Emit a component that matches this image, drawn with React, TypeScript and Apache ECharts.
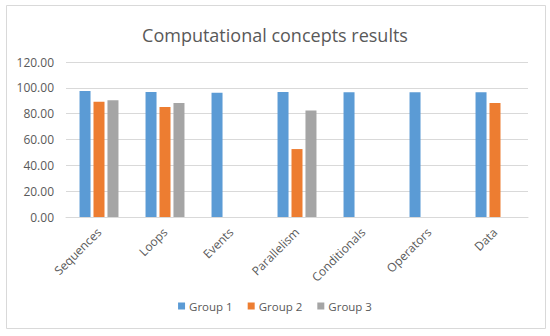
import React, { useEffect, useRef } from "react";
import * as echarts from "echarts";

const categories = ["Sequences", "Loops", "Events", "Parallelism", "Conditionals", "Operators", "Data"];
const group1 = [97.5, 96.8, 96.2, 96.8, 96.5, 96.5, 96.5];
const group2: (number | null)[] = [89.3, 85.2, null, 52.6, null, null, 88.2];
const group3: (number | null)[] = [90.3, 88.2, null, 82.5, null, null, null];
const seriesNames = ["Group 1", "Group 2", "Group 3"];
const colors = ["#5B9BD5", "#ED7D31", "#A5A5A5"];

const FONT = "'Open Sans', 'Liberation Sans', sans-serif";

export default function App() {
  const ref = useRef<HTMLDivElement>(null);
  useEffect(() => {
    document.body.style.margin = "0";
    if (!ref.current) return;
    const chart = echarts.init(ref.current, undefined, { renderer: "svg" });
    const datasets = [group1, group2, group3];
    chart.setOption({
      animation: false,
      textStyle: { fontFamily: FONT },
      graphic: [
        {
          type: "rect",
          shape: { x: 6.5, y: 5.5, width: 539, height: 323 },
          style: { fill: "none", stroke: "#d9d9d9", lineWidth: 1 },
          silent: true,
        },
      ],
      title: {
        text: "Computational concepts results",
        left: "center",
        top: 21,
        textStyle: { fontFamily: FONT, fontSize: 18, fontWeight: "normal", color: "#595959" },
      },
      legend: {
        data: seriesNames,
        bottom: 19,
        left: "center",
        icon: "rect",
        itemWidth: 7,
        itemHeight: 7,
        itemGap: 15,
        itemStyle: { borderWidth: 0 },
        textStyle: { fontFamily: FONT, fontSize: 11.5, color: "#595959", padding: [0, 0, 0, -1] },
      },
      grid: { left: 66, right: 22, top: 62, bottom: 119 },
      xAxis: {
        type: "category",
        data: categories,
        axisLine: { lineStyle: { color: "#d9d9d9" } },
        axisTick: { show: false },
        axisLabel: { rotate: 45, margin: 13, fontFamily: FONT, fontSize: 12, color: "#595959", interval: 0 },
      },
      yAxis: {
        type: "value",
        min: 0,
        max: 120,
        interval: 20,
        axisLine: { show: false },
        axisTick: { show: false },
        splitLine: { lineStyle: { color: "#d9d9d9" } },
        axisLabel: {
          margin: 12,
          fontFamily: FONT,
          fontSize: 12,
          color: "#595959",
          formatter: (v: number) => v.toFixed(2),
        },
      },
      series: datasets.map((d, i) => ({
        name: seriesNames[i],
        type: "bar",
        data: d,
        barWidth: 11,
        barGap: "27%",
        itemStyle: { color: colors[i] },
      })),
    });
    return () => chart.dispose();
  }, []);
  return <div ref={ref} style={{ width: 550, height: 336 }} />;
}
